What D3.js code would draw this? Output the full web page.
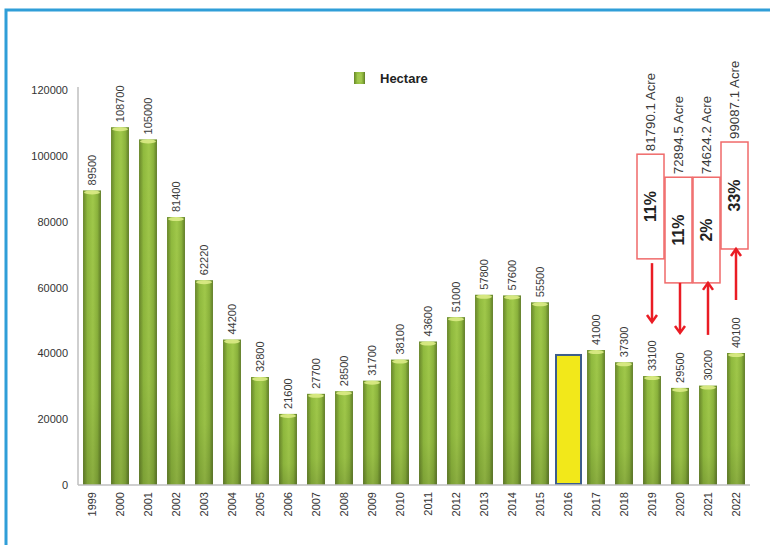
<!DOCTYPE html>
<html>
<head>
<meta charset="utf-8">
<script src="https://cdn.jsdelivr.net/npm/d3@7"></script>
<style>
  body { margin: 0; background: #fff; }
  svg text { font-family: "Liberation Sans", Arial, sans-serif; }
</style>
</head>
<body>
<div id="chart"></div>
<script>
// data
var years = ['1999','2000','2001','2002','2003','2004','2005','2006','2007','2008','2009','2010',
  '2011','2012','2013','2014','2015','2016','2017','2018','2019','2020','2021','2022'];
var hectares = [89500,108700,105000,81400,62220,44200,32800,21600,27700,28500,31700,38100,
  43600,51000,57800,57600,55500,39500,41000,37300,33100,29500,30200,40100];
var valueLabels = ['89500','108700','105000','81400','62220','44200','32800','21600','27700','28500','31700','38100',
  '43600','51000','57800','57600','55500','','41000','37300','33100','29500','30200','40100'];
var highlightYear = '2016';
var yTicks = [0,20000,40000,60000,80000,100000,120000];
var noteYears = ['2019','2020','2021','2022'];
var noteAcres = ['81790.1 Acre','72894.5 Acre','74624.2 Acre','99087.1 Acre'];
var notePercents = ['11%','11%','2%','33%'];
var noteDirs = ['down','down','up','up'];

const W = 770, H = 545;
const dims = { left: 78, right: 750, top: 90, bottom: 485 };

const svg = d3.select('#chart').append('svg')
  .attr('width', W).attr('height', H);

// frame
svg.append('rect')
  .attr('x', 6).attr('y', 10)
  .attr('width', W + 20).attr('height', H + 20)
  .attr('fill', '#fff')
  .attr('stroke', '#2f9ed8')
  .attr('stroke-width', 3);

const defs = svg.append('defs');
const grad = defs.append('linearGradient').attr('id', 'barGrad')
  .attr('x1', 0).attr('x2', 1).attr('y1', 0).attr('y2', 0);
grad.append('stop').attr('offset', '0%').attr('stop-color', '#67852a');
grad.append('stop').attr('offset', '25%').attr('stop-color', '#90ba3e');
grad.append('stop').attr('offset', '55%').attr('stop-color', '#a0c84a');
grad.append('stop').attr('offset', '80%').attr('stop-color', '#8bb33c');
grad.append('stop').attr('offset', '100%').attr('stop-color', '#5f7b27');

const shade = defs.append('linearGradient').attr('id', 'barShade')
  .attr('x1', 0).attr('x2', 0).attr('y1', 0).attr('y2', 1);
shade.append('stop').attr('offset', '0%').attr('stop-color', '#000').attr('stop-opacity', 0);
shade.append('stop').attr('offset', '70%').attr('stop-color', '#000').attr('stop-opacity', 0.04);
shade.append('stop').attr('offset', '100%').attr('stop-color', '#000').attr('stop-opacity', 0.14);

const x = d3.scaleBand()
  .domain(years)
  .range([dims.left, dims.right])
  .paddingInner(0.36)
  .paddingOuter(0.18);

const y = d3.scaleLinear()
  .domain([0, 120000])
  .range([dims.bottom, dims.top]);

// y axis
const yAxis = svg.append('g')
  .attr('transform', `translate(${dims.left},0)`)
  .call(d3.axisLeft(y).tickValues(yTicks).tickSize(0).tickPadding(10).tickFormat(d3.format('d')));
yAxis.select('.domain').attr('stroke', '#bfbfbf').attr('stroke-width', 1.5)
  .attr('d', `M0,${dims.top - 3}V${dims.bottom}`);
yAxis.selectAll('text').attr('font-size', 11).attr('fill', '#333');

// bars
const rows = years.map((yr, i) => ({ year: yr, value: hectares[i], label: valueLabels[i] }));

const bars = svg.append('g').attr('class', 'bars');
rows.forEach(function(d) {
  const cx = x(d.year) + x.bandwidth() / 2;
  if (d.year === highlightYear) {
    const w = x.step() - 2;
    bars.append('rect')
      .attr('x', cx - w / 2 + 1).attr('y', y(d.value))
      .attr('width', w - 1).attr('height', y(0) - y(d.value) - 1)
      .attr('fill', '#f2e81a')
      .attr('stroke', '#3c5d8c')
      .attr('stroke-width', 2);
    return;
  }
  bars.append('rect')
    .attr('x', x(d.year)).attr('y', y(d.value))
    .attr('width', x.bandwidth()).attr('height', y(0) - y(d.value))
    .attr('fill', 'url(#barGrad)');
  bars.append('rect')
    .attr('x', x(d.year)).attr('y', y(d.value))
    .attr('width', x.bandwidth()).attr('height', y(0) - y(d.value))
    .attr('fill', 'url(#barShade)');
  // light cap on top
  bars.append('ellipse')
    .attr('cx', cx).attr('cy', y(d.value) + 2)
    .attr('rx', x.bandwidth() / 2 - 1).attr('ry', 2)
    .attr('fill', '#dbeb86').attr('opacity', 0.9);
});

// baseline
svg.append('line')
  .attr('x1', dims.left).attr('x2', dims.right)
  .attr('y1', y(0)).attr('y2', y(0))
  .attr('stroke', '#bfbfbf').attr('stroke-width', 1.5);

// value labels
svg.append('g').selectAll('text')
  .data(rows.filter(d => d.label !== ''))
  .join('text')
  .attr('transform', d => `translate(${x(d.year) + x.bandwidth() / 2 + 4},${y(d.value) - 5}) rotate(-90)`)
  .attr('font-size', 11)
  .attr('fill', '#3a3a3a')
  .text(d => d.label);

// category labels
svg.append('g').selectAll('text')
  .data(years)
  .join('text')
  .attr('transform', d => `translate(${x(d) + x.bandwidth() / 2 + 4},${y(0) + 7}) rotate(-90)`)
  .attr('text-anchor', 'end')
  .attr('font-size', 11)
  .attr('fill', '#333')
  .text(d => d);

// legend
const legend = svg.append('g').attr('transform', 'translate(354,72)');
legend.append('rect').attr('width', 11).attr('height', 12).attr('fill', 'url(#barGrad)');
legend.append('rect').attr('x', 3).attr('y', 2).attr('width', 5).attr('height', 8)
  .attr('fill', '#a8cc55').attr('opacity', 0.6);
legend.append('text').attr('x', 26).attr('y', 11)
  .attr('font-size', 13).attr('font-weight', 'bold').attr('fill', '#222')
  .text('Hectare');

// annotation boxes (extent in data units)
const boxTop = { '2019': 100500, '2020': 93500, '2021': 93500, '2022': 104200 };
const boxBottom = { '2019': 68700, '2020': 61400, '2021': 61400, '2022': 71700 };
const arrowFrom = { '2019': 67400, '2020': 61400, '2021': 45600, '2022': 56200 };
const arrowTo = { '2019': 49500, '2020': 46200, '2021': 61400, '2022': 71700 };

const notes = svg.append('g').attr('class', 'notes');
noteYears.forEach(function(yr, i) {
  const cx = x(yr) + x.bandwidth() / 2 - 1.5;
  const bw = 27;
  const t = y(boxTop[yr]), b = y(boxBottom[yr]);
  notes.append('rect')
    .attr('x', cx - bw / 2).attr('y', t)
    .attr('width', bw).attr('height', b - t)
    .attr('fill', '#fff')
    .attr('stroke', '#f06a6a')
    .attr('stroke-width', 1.5);
  notes.append('text')
    .attr('transform', `translate(${cx + 5.5},${(t + b) / 2}) rotate(-90)`)
    .attr('text-anchor', 'middle')
    .attr('font-size', 16).attr('font-weight', 'bold').attr('fill', '#222')
    .text(notePercents[i]);
  notes.append('text')
    .attr('transform', `translate(${cx + 4.5},${t - 3}) rotate(-90)`)
    .attr('font-size', 13.3).attr('fill', '#3a3a3a')
    .text(noteAcres[i]);

  // arrow
  const ax = x(yr) + x.bandwidth() / 2;
  const y1 = y(arrowFrom[yr]), y2 = y(arrowTo[yr]);
  const dir = noteDirs[i] === 'down' ? 1 : -1;
  notes.append('line')
    .attr('x1', ax).attr('x2', ax)
    .attr('y1', y1).attr('y2', y2 - dir * 1.5)
    .attr('stroke', '#ea1c24').attr('stroke-width', 2.5);
  notes.append('path')
    .attr('d', `M${ax - 5},${y2 - dir * 7}L${ax},${y2}L${ax + 5},${y2 - dir * 7}`)
    .attr('fill', 'none')
    .attr('stroke', '#ea1c24').attr('stroke-width', 2.5);
});
</script>
</body>
</html>
